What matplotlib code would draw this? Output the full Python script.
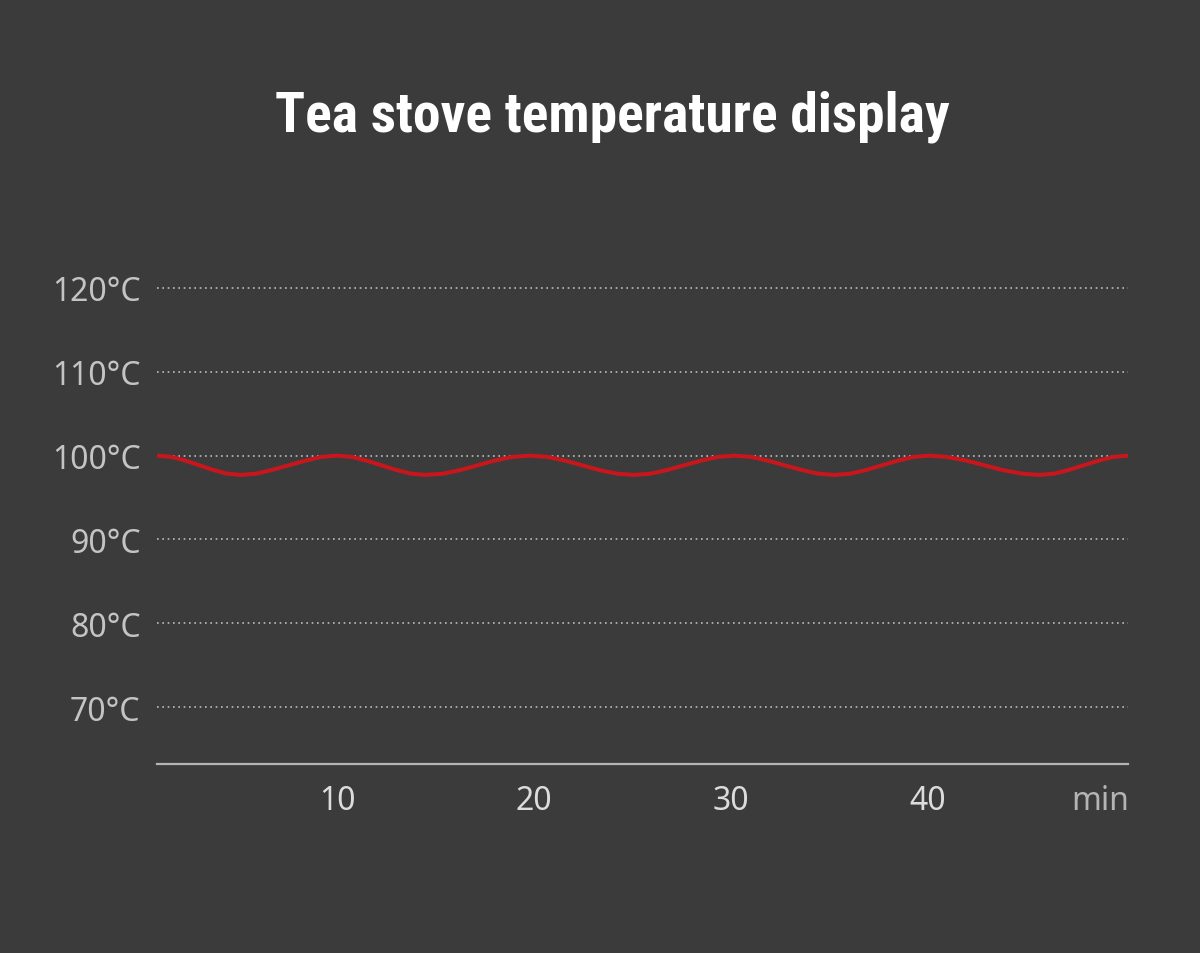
import matplotlib.pyplot as plt
from matplotlib.font_manager import fontManager

# temperature trace (minutes, degC)
minutes = [0.9, 1.6, 2.3, 3.0, 3.7, 4.4, 5.1,
           5.9, 6.7, 7.55, 8.4, 9.2, 10.0,
           10.75, 11.5, 12.25, 13.0, 13.75, 14.5,
           15.4, 16.3, 17.15, 18.0, 18.9, 19.8,
           20.7, 21.6, 22.45, 23.3, 24.2, 25.1,
           25.95, 26.8, 27.65, 28.5, 29.35, 30.2,
           31.05, 31.9, 32.75, 33.6, 34.45, 35.3,
           36.1, 36.9, 37.7, 38.5, 39.3, 40.1,
           41.0, 42.0, 42.9, 43.8, 44.8, 45.7,
           46.45, 47.2, 47.95, 48.7, 49.45, 50.2]
temps = [100.0, 99.85, 99.4, 98.85, 98.3, 97.85, 97.7,
         97.85, 98.3, 98.85, 99.4, 99.85, 100.0,
         99.85, 99.4, 98.85, 98.3, 97.85, 97.7,
         97.85, 98.3, 98.85, 99.4, 99.85, 100.0,
         99.85, 99.4, 98.85, 98.3, 97.85, 97.7,
         97.85, 98.3, 98.85, 99.4, 99.85, 100.0,
         99.85, 99.4, 98.85, 98.3, 97.85, 97.7,
         97.85, 98.3, 98.85, 99.4, 99.85, 100.0,
         99.85, 99.4, 98.85, 98.3, 97.85, 97.7,
         97.85, 98.3, 98.85, 99.4, 99.85, 100.0]

y_ticks = [70, 80, 90, 100, 110, 120]
y_labels = ["70°C", "80°C", "90°C", "100°C", "110°C", "120°C"]
x_ticks = [10, 20, 30, 40, 48.8]
x_labels = ["10", "20", "30", "40", "min"]

title = "Tea stove temperature display"

BG = "#3b3b3b"
names = {f.name for f in fontManager.ttflist}
label_font = [f for f in ["Noto Sans CJK SC", "Noto Sans", "DejaVu Sans"] if f in names]
title_font = [f for f in ["Roboto Condensed", "Liberation Sans Narrow", "DejaVu Sans"] if f in names]

fig = plt.figure(figsize=(12, 9.54), dpi=100, facecolor=BG)
ax = fig.add_axes([0.131, 0.198, 0.809, 0.543])
ax.set_facecolor(BG)

ax.plot(minutes, temps, color="#c8161d", lw=2.9, solid_capstyle="round", zorder=3)

ax.set_xlim(0.86, 50.2)
ax.set_ylim(63.2, 125)

for s in ["top", "right", "left"]:
    ax.spines[s].set_visible(False)
ax.spines["bottom"].set_color("#b4b4b4")
ax.spines["bottom"].set_linewidth(1.6)

ax.set_yticks(y_ticks)
ax.set_yticklabels(y_labels)
ax.set_xticks(x_ticks)
ax.set_xticklabels(x_labels)
ax.tick_params(axis="y", length=0, pad=12, labelsize=23, labelcolor="#c4c4c4")
ax.tick_params(axis="x", length=0, pad=14, labelsize=23, labelcolor="#dcdcdc")
for lab in ax.get_yticklabels() + ax.get_xticklabels():
    lab.set_family(label_font)
    lab.set_fontweight("light")
ax.get_xticklabels()[-1].set_color("#b4b4b4")

ax.grid(axis="y", color="#bdbdbd", linestyle=(0, (1, 2.2)), linewidth=1.2)
ax.grid(axis="x", visible=False)

fig.text(0.51, 0.878, title, ha="center", va="center", color="white",
         fontsize=40, fontweight="heavy", family=title_font, fontstretch="condensed")

fig.savefig("out.png", dpi=100, facecolor=BG)
